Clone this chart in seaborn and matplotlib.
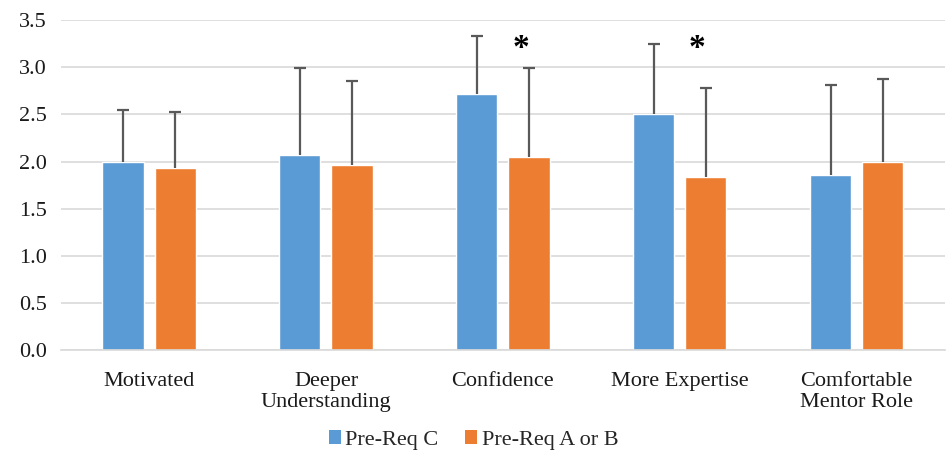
import matplotlib
matplotlib.use("Agg")
import matplotlib.pyplot as plt
import seaborn as sns
import pandas as pd
import numpy as np
from matplotlib.patches import Patch

categories = ["Motivated", "Deeper\nUnderstanding", "Confidence", "More Expertise", "Comfortable\nMentor Role"]
groups = ["Pre-Req C", "Pre-Req A or B"]
pre_req_c = [2.00, 2.07, 2.72, 2.50, 1.86]
pre_req_ab = [1.93, 1.96, 2.05, 1.84, 1.99]
err_c = [0.55, 0.92, 0.61, 0.75, 0.95]
err_ab = [0.60, 0.89, 0.94, 0.94, 0.89]
significant = ["Confidence", "More Expertise"]
colors = ["#5B9BD5", "#ED7D31"]

sns.set_style("white")
plt.rcParams["font.family"] = ["Liberation Serif", "DejaVu Serif"]

df = pd.DataFrame({
    "category": categories * 2,
    "group": [groups[0]] * len(categories) + [groups[1]] * len(categories),
    "value": pre_req_c + pre_req_ab,
    "err": err_c + err_ab,
})

fig = plt.figure(figsize=(9.47, 4.57), dpi=100)
ax = fig.add_axes([0.064, 0.234, 0.934, 0.722])

sns.barplot(data=df, x="category", y="value", hue="group", order=categories,
            hue_order=groups, palette=colors, errorbar=None, width=0.59, gap=0.21,
            saturation=1, ax=ax, zorder=2)

# error bars (upper only) from the drawn bar patches
for gi, g in enumerate(groups):
    sub = df[df["group"] == g].set_index("category").loc[categories]
    cont = ax.containers[gi]
    xs = [b.get_x() + b.get_width() / 2 for b in cont]
    _, caps, _ = ax.errorbar(xs, sub["value"].values,
                             yerr=[np.zeros(len(xs)), sub["err"].values],
                             fmt="none", ecolor="#595959", elinewidth=1.6, capsize=4,
                             capthick=1.6, zorder=3)
    caps[0].set_visible(False)

for cat in significant:
    i = categories.index(cat)
    ax.text(i + 0.1, 3.2, "*", ha="center", va="center", fontsize=24,
            fontweight="bold", color="black")

ax.set_ylim(0, 3.5)
ax.set_xlim(-0.5, len(categories) - 0.5)
ax.set_yticks(np.arange(0, 3.51, 0.5))
ax.set_yticklabels([f"{v:.1f}" for v in np.arange(0, 3.51, 0.5)])
ax.yaxis.grid(True, color="#D9D9D9", linewidth=1.2, zorder=0)
ax.set_axisbelow(True)
for s in ["top", "right", "left"]:
    ax.spines[s].set_visible(False)
ax.spines["bottom"].set_color("#D9D9D9")
ax.spines["bottom"].set_linewidth(1.2)
ax.tick_params(axis="both", length=0, labelsize=16, colors="#1a1a1a")
ax.tick_params(axis="x", pad=16)
ax.tick_params(axis="y", pad=10)
for t in ax.get_xticklabels():
    t.set_linespacing(1.1)
ax.set_xlabel("")
ax.set_ylabel("")

ax.legend_.remove()
h = [Patch(facecolor=c, edgecolor="none") for c in colors]
fig.legend(h, groups, loc="center", bbox_to_anchor=(0.5, 0.037), ncol=2,
           frameon=False, fontsize=16, handlelength=0.55, handleheight=0.55,
           handletextpad=0.2, columnspacing=1.2)

fig.savefig("out.png", dpi=100)
